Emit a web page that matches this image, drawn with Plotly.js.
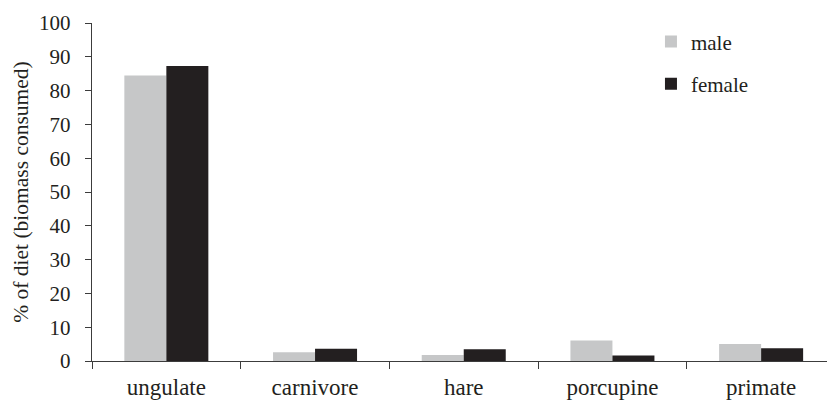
<!DOCTYPE html>
<html>
<head>
<meta charset="utf-8">
<script src="https://cdn.plot.ly/plotly-3.0.1.min.js"></script>
<style>html,body{margin:0;padding:0;background:#fff;}#chart{width:827px;height:401px;}</style>
</head>
<body>
<div id="chart"></div>
<script>
const categories = ["ungulate", "carnivore", "hare", "porcupine", "primate"];
const maleValues = [84.5, 2.6, 1.8, 6.1, 5.0];
const femaleValues = [87.3, 3.65, 3.5, 1.6, 3.8];
const yTickValues = [0, 10, 20, 30, 40, 50, 60, 70, 80, 90, 100];

const font = "Liberation Serif";
const ink = "#231f20";
const axisColor = "#3c3c3c";

const traces = [
  {type: "bar", name: "male", x: categories, y: maleValues,
   marker: {color: "#c6c7c8", line: {width: 0}}, legendgroup: "m", hoverinfo: "none"},
  {type: "bar", name: "female", x: categories, y: femaleValues,
   marker: {color: "#231f20", line: {width: 0}}, legendgroup: "f", hoverinfo: "none"}
];

const layout = {
  width: 827, height: 401,
  margin: {l: 92, r: 0, t: 23, b: 40, pad: 0},
  paper_bgcolor: "#fff", plot_bgcolor: "#fff",
  font: {family: font, color: ink, size: 21},
  barmode: "group", bargap: 0.435, bargroupgap: 0,
  showlegend: true,
  legend: {x: 0.7605, xanchor: "left", y: 1.005, yanchor: "top",
           font: {family: font, size: 21, color: ink},
           tracegroupgap: 12, traceorder: "grouped", bgcolor: "rgba(0,0,0,0)"},
  xaxis: {type: "category", range: [-0.5, 4.443], tickson: "boundaries",
          ticks: "outside", ticklen: 7, tickwidth: 1, tickcolor: axisColor,
          showline: true, linecolor: axisColor, linewidth: 1.3,
          showgrid: false, zeroline: false, automargin: false,
          ticklabelstandoff: 5,
          tickfont: {family: font, size: 23, color: ink}},
  yaxis: {range: [0, 100], tickvals: yTickValues,
          ticks: "outside", ticklen: 6, tickwidth: 1, tickcolor: axisColor,
          showline: true, linecolor: axisColor, linewidth: 1.3,
          showgrid: false, zeroline: false, automargin: false,
          ticklabelstandoff: 10,
          tickfont: {family: font, size: 21, color: ink},
          title: {text: "% of diet (biomass consumed)", standoff: 4,
                  font: {family: font, size: 21.5, color: ink}}}
};

Plotly.newPlot("chart", traces, layout, {staticPlot: true, displayModeBar: false});
</script>
</body>
</html>
